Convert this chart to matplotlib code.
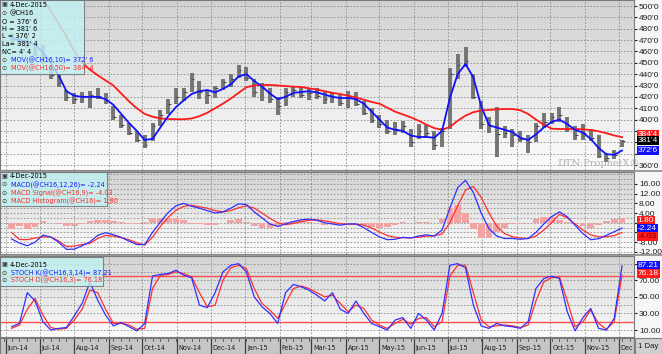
import numpy as np
import pandas as pd
import matplotlib
matplotlib.use("Agg")
import matplotlib.pyplot as plt
from matplotlib import font_manager
from matplotlib.colors import LinearSegmentedColormap
from matplotlib.patches import Rectangle
import matplotlib.transforms as mtransforms

plt.rcParams["font.family"] = ["Liberation Sans", "DejaVu Sans"]

# weekly readings (Friday of each week), @CH16 corn, Jun-2014 .. 4-Dec-2015
weeks = pd.date_range("2014-06-06", "2015-12-04", freq="W-FRI")

high = [476, 474, 472, 467, 466, 447, 440, 426, 423, 424, 425, 428, 423, 412, 404, 397, 390, 386, 397, 408,
        418, 428, 428, 441, 434, 426, 430, 436, 440, 448, 446, 436, 432, 428, 420, 428, 430, 429, 427, 428,
        425, 424, 422, 425, 424, 416, 410, 404, 400, 398, 399, 392, 396, 395, 390, 393, 445, 458, 464, 440,
        416, 402, 411, 394, 392, 390, 386, 397, 406, 406, 411, 402, 394, 396, 392, 386, 371, 373, 381.75]
low = [466, 465, 463, 456, 449, 436, 429, 416, 414, 415, 410, 418, 414, 400, 393, 386, 380, 375, 381, 394,
       405, 414, 416, 424, 418, 414, 419, 426, 429, 437, 434, 420, 416, 415, 404, 412, 420, 419, 417, 418,
       414, 415, 412, 410, 412, 404, 397, 393, 387, 386, 388, 376, 383, 384, 373, 376, 392, 436, 446, 418,
       392, 388, 367, 384, 376, 380, 371, 380, 393, 396, 398, 389, 382, 382, 381, 366, 363, 365, 376.25]
close = [469, 468, 466, 458, 452, 439, 432, 420, 418, 420, 422, 421, 416, 402, 395, 388, 382, 378, 394, 404,
         414, 420, 424, 436, 424, 422, 428, 433, 436, 444, 437, 424, 428, 418, 412, 424, 426, 422, 423, 421,
         418, 420, 415, 420, 414, 406, 400, 396, 390, 392, 394, 380, 390, 388, 378, 390, 440, 448, 452, 420,
         396, 394, 387, 388, 386, 383, 380, 394, 398, 402, 404, 392, 386, 388, 384, 368, 366, 369, 381.5]

mov10 = [471.5, 470, 468.5, 466, 459, 450, 439, 425, 421, 420, 420, 420, 418, 413, 405, 397, 390, 382, 383, 393,
         403, 411, 417, 422.5, 425, 426, 424, 427, 431, 438, 440, 434, 429, 423, 418, 420, 423.5, 424.3, 425, 424,
         422, 420, 419, 419, 418, 414, 407, 400, 393, 391, 390, 386, 384.7, 384.7, 384, 390, 419, 440, 449, 437,
         412, 395, 393, 391, 389, 384, 382, 387, 393, 398, 400, 396, 391, 388.5, 383, 375, 369.5, 369, 372.75]
mov50 = [545, 535, 525, 515, 506, 495.5, 484.5, 473.5, 460, 450, 444, 439, 434.5, 430, 423, 416, 410, 405, 402.5, 401,
         400.5, 400.3, 400.3, 401, 403, 406, 410, 414, 418.5, 423.5, 428.5, 430, 430.5, 430.5, 430, 429.5, 429, 428.7,
         427.5, 426.5, 425, 423.5, 422.5, 421, 419.5, 417.5, 415.5, 414, 410.5, 407, 404.5, 402, 399, 395.5, 392.5,
         391, 393.5, 399, 403.5, 406.5, 408, 408.5, 409, 409.3, 409.3, 408.2, 405, 400, 395.5, 392, 391.7, 391.7,
         391.7, 391.5, 390.8, 389.7, 388, 386, 384.5]

macd = [-6.7, -8.4, -9.5, -8.0, -5.1, -5.9, -8.0, -11.0, -10.9, -9.5, -7.9, -5.2, -4.1, -4.9, -6.0, -7.6, -9.0,
        -9.0, -4.0, 0.3, 4.2, 7.0, 8.0, 6.8, 6.0, 5.0, 4.0, 4.5, 6.0, 7.8, 7.5, 4.5, 2.0, -0.5, -1.5, -0.5, 0.5,
        1.2, 1.5, 1.0, 0.0, -0.5, -1.0, -0.5, -0.5, -2.0, -4.0, -5.8, -7.0, -6.8, -6.0, -6.3, -5.5, -5.0, -5.5,
        -3.0, 6.0, 14.5, 17.5, 12.5, 4.0, -2.5, -5.5, -6.5, -6.5, -6.8, -6.5, -4.0, -0.5, 2.5, 4.5, 2.5, -1.0,
        -4.5, -7.0, -6.6, -5.2, -3.7, -2.24]
signal = [-4.0, -6.9, -7.0, -6.3, -5.8, -5.9, -7.5, -9.8, -9.6, -9.0, -8.5, -6.5, -5.2, -5.5, -6.2, -7.0, -8.3,
          -9.2, -6.0, -1.5, 2.2, 5.2, 6.8, 7.2, 6.6, 6.0, 5.0, 4.5, 5.0, 6.2, 7.0, 6.0, 4.0, 1.8, 0.0, -0.8, -0.3,
          0.5, 1.0, 1.2, 0.8, 0.2, -0.4, -0.6, -0.6, -1.0, -2.2, -3.8, -5.3, -6.0, -6.2, -6.2, -6.0, -5.5, -5.4,
          -4.6, 0.0, 7.0, 13.5, 15.0, 10.5, 4.0, -1.5, -4.5, -5.8, -6.3, -6.5, -5.5, -3.0, 0.0, 3.5, 2.0, -0.5,
          -3.0, -5.0, -5.8, -5.8, -5.3, -4.03]

stoch_k = [14, 18, 55, 45, 20, 10, 12, 13, 27, 42, 68, 46, 28, 15, 19, 14, 9, 18, 75, 77, 78, 82, 76, 73, 40, 37,
           55, 80, 88, 90, 80, 50, 38, 30, 18, 55, 65, 62, 58, 52, 45, 55, 35, 30, 45, 30, 18, 14, 10, 22, 25, 12,
           30, 22, 10, 30, 88, 90, 85, 40, 15, 12, 18, 15, 14, 12, 20, 60, 72, 75, 72, 32, 9, 25, 36, 12, 10, 24,
           87.21]
stoch_d = [12, 16, 35, 48, 28, 13, 11, 12, 22, 35, 58, 55, 35, 18, 18, 16, 11, 12, 60, 76, 77, 80, 78, 74, 55, 38,
           40, 70, 85, 88, 84, 60, 42, 34, 24, 42, 60, 63, 60, 55, 50, 52, 42, 32, 40, 36, 22, 16, 12, 18, 23, 17,
           24, 25, 14, 20, 75, 88, 88, 55, 22, 14, 15, 16, 15, 13, 16, 45, 68, 73, 74, 45, 14, 20, 34, 18, 11, 20,
           76.18]

month_starts = pd.date_range("2014-06-01", "2015-12-01", freq="MS")

W, H = 662, 354
BLUE = "#1010ff"
RED = "#ff1a1a"
GRID = "#8c8c8c"
SMALL = 6.0


def narrow_props():
    fonts = font_manager.fontManager.ttflist
    if any(f.name == "Liberation Sans Narrow" for f in fonts):
        return {"family": "Liberation Sans Narrow"}
    if any(f.name == "DejaVu Sans" and "condensed" in str(f.stretch) for f in fonts):
        return {"family": "DejaVu Sans", "stretch": "condensed"}
    return {"family": "Liberation Sans"}


def fit_size(fig, text, width_px, props):
    # font size that makes `text` about width_px wide
    renderer = fig.canvas.get_renderer()
    t = fig.text(0, 0, text, fontsize=10, **props)
    w = t.get_window_extent(renderer).width
    t.remove()
    return 10 * width_px / w


def px_axes(fig, x0, y0, x1, y1):
    return fig.add_axes([x0 / W, 1 - y1 / H, (x1 - x0) / W, (y1 - y0) / H])


def eighths(v):
    whole = int(np.floor(v))
    return f"{whole}'{int(round((v - whole) * 8))}"


def gradient(ax, top="#d2d2d2", bottom="#fcfcfc"):
    cmap = LinearSegmentedColormap.from_list("bg", [top, bottom])
    ax.imshow(np.linspace(0, 1, 200).reshape(-1, 1), cmap=cmap, extent=[0, 1, 0, 1],
              transform=ax.transAxes, aspect="auto", zorder=0, interpolation="bicubic")


def style_panel(ax, ylim, ticks, labels, grid_vals):
    xlim = (pd.Timestamp("2014-05-26 14:00"), pd.Timestamp("2015-12-14 17:00"))
    gradient(ax)
    for m in month_starts:
        ax.axvline(m, color=GRID, lw=0.6, ls=(0, (2, 2)), zorder=1)
    for g in grid_vals:
        ax.axhline(g, color=GRID, lw=0.6, ls=(0, (2, 2)), zorder=1)
    ax.set_xlim(*xlim)
    ax.set_ylim(*ylim)
    ax.set_xticks([])
    ax.yaxis.tick_right()
    ax.set_yticks(ticks)
    ax.set_yticklabels(labels)
    ax.tick_params(axis="y", labelsize=SMALL, length=2, pad=1.5, colors="#202020")
    for s in ax.spines.values():
        s.set_color("#7a7a7a")
        s.set_linewidth(0.8)


def value_box(ax, y, s, fc, tc="white"):
    tr = mtransforms.blended_transform_factory(ax.transAxes, ax.transData)
    ax.text(1.006, y, s, transform=tr, ha="left", va="center", fontsize=SMALL, color=tc, clip_on=False,
            zorder=5, bbox=dict(boxstyle="square,pad=0.1", fc=fc, ec="none"))


def legend_box(fig, x0, y0, x1, y1, lines, size, props):
    fig.patches.append(Rectangle((x0 / W, 1 - y1 / H), (x1 - x0) / W, (y1 - y0) / H,
                                 transform=fig.transFigure, fc="#c2f2f2", ec="#707070", lw=0.8,
                                 alpha=0.82, zorder=3))
    for (x, y, s, c, icon) in lines:
        if icon:
            fig.text(4.5 / W, 1 - y / H, icon, fontsize=4.5, color="#303030", ha="center", va="center",
                     family="DejaVu Sans", zorder=4)
        fig.text(x / W, 1 - y / H, s, fontsize=size, color=c, ha="left", va="center", zorder=4, **props)


fig = plt.figure(figsize=(W / 100, H / 100), dpi=100, facecolor="#f6f6f6")
NP = narrow_props()
LEG = min(6.2, max(5.2, fit_size(fig, "MOV(@CH16,10)= 372' 6", 72, NP)))
DATE = min(5.8, max(5.2, fit_size(fig, "Jun-14", 16, NP)))

# ---- price panel
ax1 = px_axes(fig, 0, 0, 634, 170)
ticks = list(range(360, 510, 10))
style_panel(ax1, (355.6, 505.3), ticks,
            ["" if t in (370, 380, 390) else f"{t}'0" for t in ticks], ticks)
ax1.vlines(weeks, low, high, color="#747474", lw=2.8, zorder=2)
ax1.hlines(close, weeks, weeks + pd.Timedelta(days=2.5), color="#4a4a4a", lw=0.8, zorder=2)
ax1.plot(weeks, mov50, color=RED, lw=1.3, zorder=3)
ax1.plot(weeks, mov10, color=BLUE, lw=1.3, zorder=3)
ax1.text(557 / 634, 1 - 163 / 170, "DTN\u00b7ProphetX\u00ae", transform=ax1.transAxes, fontsize=7,
         color="#b0b0b0", family="DejaVu Serif", ha="left", va="center", zorder=2)
value_box(ax1, mov50[-1] + 2.5, eighths(mov50[-1]), "#ff1a1a")
value_box(ax1, close[-1], eighths(close[-1]), "#000000")
value_box(ax1, mov10[-1], eighths(mov10[-1]), "#1010ff")

# ---- MACD panel
ax2 = px_axes(fig, 0, 172, 634, 254)
mt = list(range(-12, 20, 4))
style_panel(ax2, (-12.9, 20.95), mt, ["" if t in (0, -4) else f"{t:.2f}" for t in mt],
            list(range(-12, 22, 2)))
hist = np.array(macd) - np.array(signal)
ax2.bar(weeks, hist, width=6, color="#f2a4a4", zorder=2)
ax2.plot(weeks, signal, color="#ff3030", lw=0.9, zorder=3)
ax2.plot(weeks, macd, color="#3030ff", lw=0.9, zorder=3)
value_box(ax2, hist[-1] - 0.8, f"{hist[-1] + 0.01:.2f}", "#ff1a1a")
value_box(ax2, macd[-1], f"{macd[-1]:.2f}", "#1010ff")
value_box(ax2, signal[-1] - 1.6, f"{signal[-1]:.2f}", "#ff1a1a", "#800000")

# ---- stochastic panel
ax3 = px_axes(fig, 0, 256, 634, 337)
st = list(range(10, 100, 20))
style_panel(ax3, (1.6, 99.2), st, ["" if t == 90 else f"{t:.2f}" for t in st], list(range(10, 100, 10)))
ax3.axhline(75, color="#ff5050", lw=1.0, zorder=2)
ax3.axhline(20, color="#ff5050", lw=1.0, zorder=2)
ax3.plot(weeks, stoch_d, color="#ff3030", lw=0.9, zorder=3)
ax3.plot(weeks, stoch_k, color="#3030ff", lw=0.9, zorder=3)
value_box(ax3, stoch_k[-1] + 1, f"{stoch_k[-1]:.2f}", "#1010ff")
value_box(ax3, stoch_d[-1] + 2, f"{stoch_d[-1]:.2f}", "#ff1a1a")

# ---- date band
ax4 = px_axes(fig, 0, 338, 634, 354)
ax4.set_facecolor("#c6c6c6")
ax4.set_xlim(ax1.get_xlim())
ax4.set_ylim(0, 1)
ax4.set_xticks([])
ax4.set_yticks([])
for s in ax4.spines.values():
    s.set_color("#7a7a7a")
for d in pd.date_range("2014-05-30", "2015-12-14", freq="W-FRI"):
    ax4.plot([d, d], [0.8, 1.0], color="#505050", lw=0.6)
for m in month_starts:
    ax4.axvline(m, color="#404040", lw=0.9)
    label = "Dec" if m == month_starts[-1] else m.strftime("%b-%y")
    ax4.text(m + pd.Timedelta(days=1.5), 0.4, label, fontsize=DATE, color="#202020",
             ha="left", va="center", clip_on=True, **NP)

# separators and corner box
for yy in (171, 255):
    fig.add_artist(plt.Line2D([0, 1], [1 - yy / H] * 2, color="#8a8a8a", lw=1.2))
fig.patches.append(Rectangle((635 / W, 0), 27 / W, 16 / H, transform=fig.transFigure,
                             fc="#d0d0d0", ec="#808080", lw=0.8))
fig.text(648.5 / W, 7.5 / H, "1 Day", fontsize=5.6, ha="center", va="center", color="#202020")

# ---- legends
legend_box(fig, 0, 0, 84, 74, [
    (9.5, 4.7, "4-Dec-2015", "#000000", "\u25a3"),
    (10, 13.3, "@CH16", "#000000", "\u2299"),
    (1.5, 21.7, "O = 376' 6", "#000000", None),
    (1.5, 29.2, "H = 381' 6", "#000000", None),
    (1.5, 36.5, "L = 376' 2", "#000000", None),
    (1.5, 44.0, "La= 381' 4", "#000000", None),
    (1.5, 51.7, "NC= 4' 4", "#000000", None),
    (11, 60.3, "MOV(@CH16,10)= 372' 6", "#1a1aff", "\u2299"),
    (11, 68.3, "MOV(@CH16,50)= 384' 4", "#ff2a2a", "\u2299"),
], LEG, NP)
legend_box(fig, 0, 172, 107, 206, [
    (9.5, 176.5, "4-Dec-2015", "#000000", "\u25a3"),
    (11, 185, "MACD(@CH16,12,26)= -2.24", "#1a1aff", "\u2299"),
    (11, 193.3, "MACD Signal(@CH16,9)= -4.03", "#ff2a2a", "\u2299"),
    (11, 201.7, "MACD Histogram(@CH16)= 1.80", "#ff2a2a", "\u2299"),
], LEG, NP)
legend_box(fig, 0, 257, 103, 286, [
    (9.5, 265, "4-Dec-2015", "#000000", "\u25a3"),
    (11, 273.3, "STOCH K(@CH16,3,14)= 87.21", "#1a1aff", "\u2299"),
    (11, 280.7, "STOCH D(@CH16,3)= 76.18", "#ff2a2a", "\u2299"),
], LEG, NP)

fig.savefig("out.png", dpi=100, facecolor=fig.get_facecolor())
